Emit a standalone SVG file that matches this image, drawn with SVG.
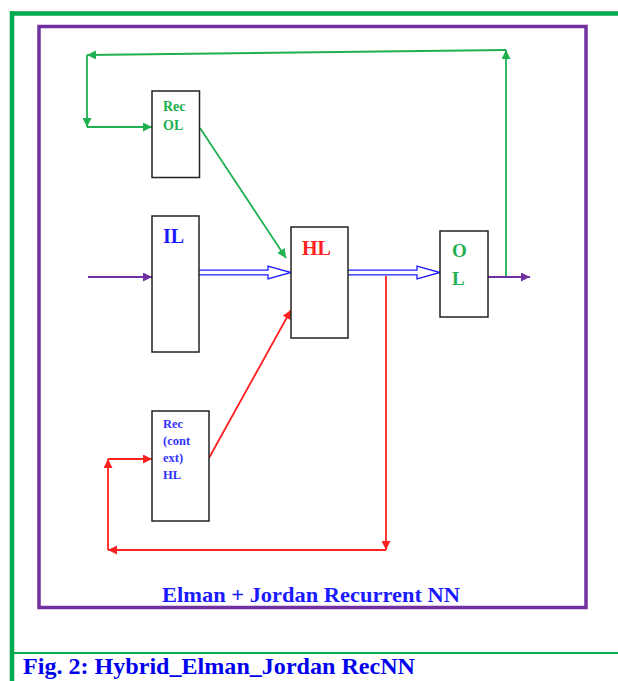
<svg xmlns="http://www.w3.org/2000/svg" width="618" height="681" viewBox="0 0 618 681">
<style>
.box{fill:#fff;stroke:#222;stroke-width:1.5}
.t{font-family:"Liberation Serif","Times New Roman",serif;font-weight:bold}
.g{stroke:#1fb050;stroke-width:1.8;fill:none}
.r{stroke:#ff2020;stroke-width:1.8;fill:none}
.p{stroke:#7030a0;stroke-width:1.8;fill:none}
.dbl{stroke:#1a1aff;stroke-width:1.3;fill:#fff}
</style>
<defs>
<marker id="ag" viewBox="0 0 10 10" refX="10" refY="5" markerWidth="10" markerHeight="9" orient="auto" markerUnits="userSpaceOnUse"><path d="M0,0L10,5L0,10z" fill="#1fb050"/></marker>
<marker id="ar" viewBox="0 0 10 10" refX="10" refY="5" markerWidth="10" markerHeight="9" orient="auto" markerUnits="userSpaceOnUse"><path d="M0,0L10,5L0,10z" fill="#ff2020"/></marker>
<marker id="ap" viewBox="0 0 10 10" refX="10" refY="5" markerWidth="10" markerHeight="9" orient="auto" markerUnits="userSpaceOnUse"><path d="M0,0L10,5L0,10z" fill="#7030a0"/></marker>
</defs>
<rect width="618" height="681" fill="#fff"/>
<g id="frame">
<line x1="10" y1="13.5" x2="618" y2="13.5" stroke="#00aa4f" stroke-width="4.5"/>
<line x1="12" y1="11" x2="12" y2="681" stroke="#00aa4f" stroke-width="4.5"/>
<line x1="12" y1="653" x2="618" y2="653" stroke="#00aa4f" stroke-width="2"/>
<rect x="39" y="26.5" width="547" height="581" fill="none" stroke="#7030a0" stroke-width="3.5"/>
<text class="t" x="162" y="602" font-size="22" fill="#1a1aff" textLength="298" lengthAdjust="spacingAndGlyphs">Elman + Jordan Recurrent NN</text>
<text class="t" x="23" y="674" font-size="24" fill="#0000ee" textLength="392" lengthAdjust="spacingAndGlyphs">Fig. 2: Hybrid_Elman_Jordan RecNN</text>
</g>
<g id="connectors">
<line class="g" x1="506" y1="277" x2="506" y2="50" marker-end="url(#ag)"/>
<line class="g" x1="506" y1="50" x2="87" y2="55" marker-end="url(#ag)"/>
<line class="g" x1="87" y1="55" x2="87" y2="127" marker-end="url(#ag)"/>
<line class="g" x1="87" y1="127" x2="152" y2="127" marker-end="url(#ag)"/>
<line class="g" x1="200" y1="128" x2="286" y2="258" marker-end="url(#ag)"/>
<line class="p" x1="88" y1="277" x2="152" y2="277" marker-end="url(#ap)"/>
<line class="p" x1="488" y1="277" x2="530" y2="277" marker-end="url(#ap)"/>
<path class="dbl" d="M199,270.2H268V266.2L291,272.5L268,278.8V274.8H199"/>
<path class="dbl" d="M348,270.2H417V266.2L440,272.5L417,278.8V274.8H348"/>
<line class="r" x1="386" y1="276" x2="386" y2="550" marker-end="url(#ar)"/>
<line class="r" x1="386" y1="550" x2="108" y2="550" marker-end="url(#ar)"/>
<line class="r" x1="108" y1="550" x2="108" y2="459" marker-end="url(#ar)"/>
<line class="r" x1="108" y1="459" x2="152" y2="459" marker-end="url(#ar)"/>
<line class="r" x1="209" y1="458" x2="291" y2="310" marker-end="url(#ar)"/>
</g>
<g id="recOL">
<rect class="box" x="152" y="91" width="47.5" height="86.5"/>
<text class="t" x="163" y="111" font-size="14" fill="#1fb050">Rec</text>
<text class="t" x="163" y="130" font-size="14" fill="#1fb050">OL</text>
</g>
<g id="IL">
<rect class="box" x="152" y="216" width="47" height="136"/>
<text class="t" x="163" y="243" font-size="20" fill="#1a1aff">IL</text>
</g>
<g id="HL">
<rect class="box" x="291" y="227" width="57" height="111"/>
<text class="t" x="302" y="255" font-size="20" fill="#ff2020">HL</text>
</g>
<g id="OL">
<rect class="box" x="440" y="231" width="48" height="86"/>
<text class="t" x="452" y="257" font-size="19" fill="#1fb050">O</text>
<text class="t" x="452" y="285" font-size="19" fill="#1fb050">L</text>
</g>
<g id="recHL">
<rect class="box" x="152" y="411" width="57" height="110"/>
<text class="t" x="163" y="428" font-size="12.5" fill="#3333ff">Rec</text>
<text class="t" x="163" y="445" font-size="12.5" fill="#3333ff">(cont</text>
<text class="t" x="163" y="462" font-size="12.5" fill="#3333ff">ext)</text>
<text class="t" x="163" y="479" font-size="12.5" fill="#3333ff">HL</text>
</g>
</svg>
